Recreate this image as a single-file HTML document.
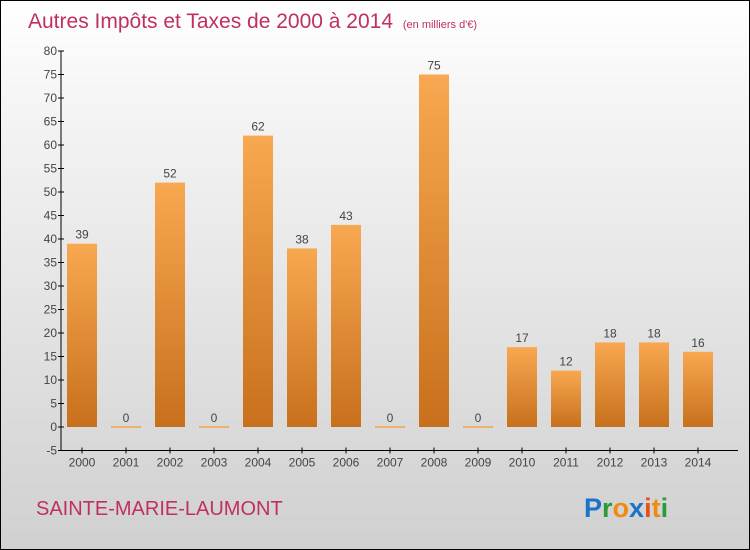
<!DOCTYPE html>
<html><head><meta charset="utf-8"><style>
body{margin:0}
#wrap{width:748px;height:548px;border:1px solid #000;background:linear-gradient(#ffffff,#f4f4f4 20%,#d0d0d0);position:relative;font-family:"Liberation Sans",sans-serif;overflow:hidden}
</style></head><body>
<div id="wrap">
<svg width="748" height="548" id="svg">
<defs><linearGradient id="bg" x1="0" y1="0" x2="0" y2="1"><stop offset="0" stop-color="#f8a850"/><stop offset="1" stop-color="#c8701c"/></linearGradient></defs>
<text x="27" y="27" font-size="21" fill="#c0305f">Autres Impôts et Taxes de 2000 à 2014 <tspan font-size="11" dx="4">(en milliers d'€)</tspan></text>
<text x="35" y="514" font-size="20" fill="#c0305f">SAINTE-MARIE-LAUMONT</text>
<g font-size="27" font-weight="bold">
<text x="583" y="516"><tspan fill="#1a73c9">P</tspan><tspan fill="#2a9a3a">r</tspan><tspan fill="#f08a10">o</tspan><tspan fill="#1a73c9">x</tspan><tspan fill="#e8501a">i</tspan><tspan fill="#f08a10">t</tspan><tspan fill="#2a9a3a">i</tspan></text></g>
<g id="plot"></g>
</svg></div>
<script>
const categories=["2000","2001","2002","2003","2004","2005","2006","2007","2008","2009","2010","2011","2012","2013","2014"];
const values=[39,0,52,0,62,38,43,0,75,0,17,12,18,18,16];
const yTicks=[-5,0,5,10,15,20,25,30,35,40,45,50,55,60,65,70,75,80];
const NS="http://www.w3.org/2000/svg";
const g=document.getElementById('plot');
const y=v=>426-(v)*(376/80);
const x=i=>81+i*44;
function el(t,a,p){const e=document.createElementNS(NS,t);for(const k in a)e.setAttribute(k,a[k]);(p||g).appendChild(e);return e;}
const ax=el('line',{x1:60,y1:y(80),x2:60,y2:y(-5),stroke:'#000'});


const xa=el('line',{x1:60,y1:y(-5),x2:737,y2:y(-5),stroke:'#000'});


yTicks.forEach(t=>{
 el('line',{x1:57,x2:63,y1:y(t),y2:y(t),stroke:'#000'});
 const tx=el('text',{x:56,y:y(t)+4,'text-anchor':'end','font-size':12,fill:'#444'});tx.textContent=t;
 
 
});
categories.forEach((c,i)=>{
 const cx=x(i),v=values[i];
 el('line',{x1:cx,x2:cx,y1:y(-5)-3,y2:y(-5)+3,stroke:'#000'});
 const tl=el('text',{x:cx,y:y(-5)+16,'text-anchor':'middle','font-size':12,fill:'#444'});tl.textContent=c;
 
 
 let b;
 if(v>0){b=el('rect',{x:cx-15,y:y(v),width:30,height:y(0)-y(v),fill:'url(#bg)'});}
 else{b=el('rect',{x:cx-15,y:y(0)-1,width:30,height:2,fill:'#f0b070'});}
 
 
 const vl=el('text',{x:cx,y:y(v)-5,'text-anchor':'middle','font-size':12,fill:'#444'});vl.textContent=v;
 
 
});
</script>
</body></html>
